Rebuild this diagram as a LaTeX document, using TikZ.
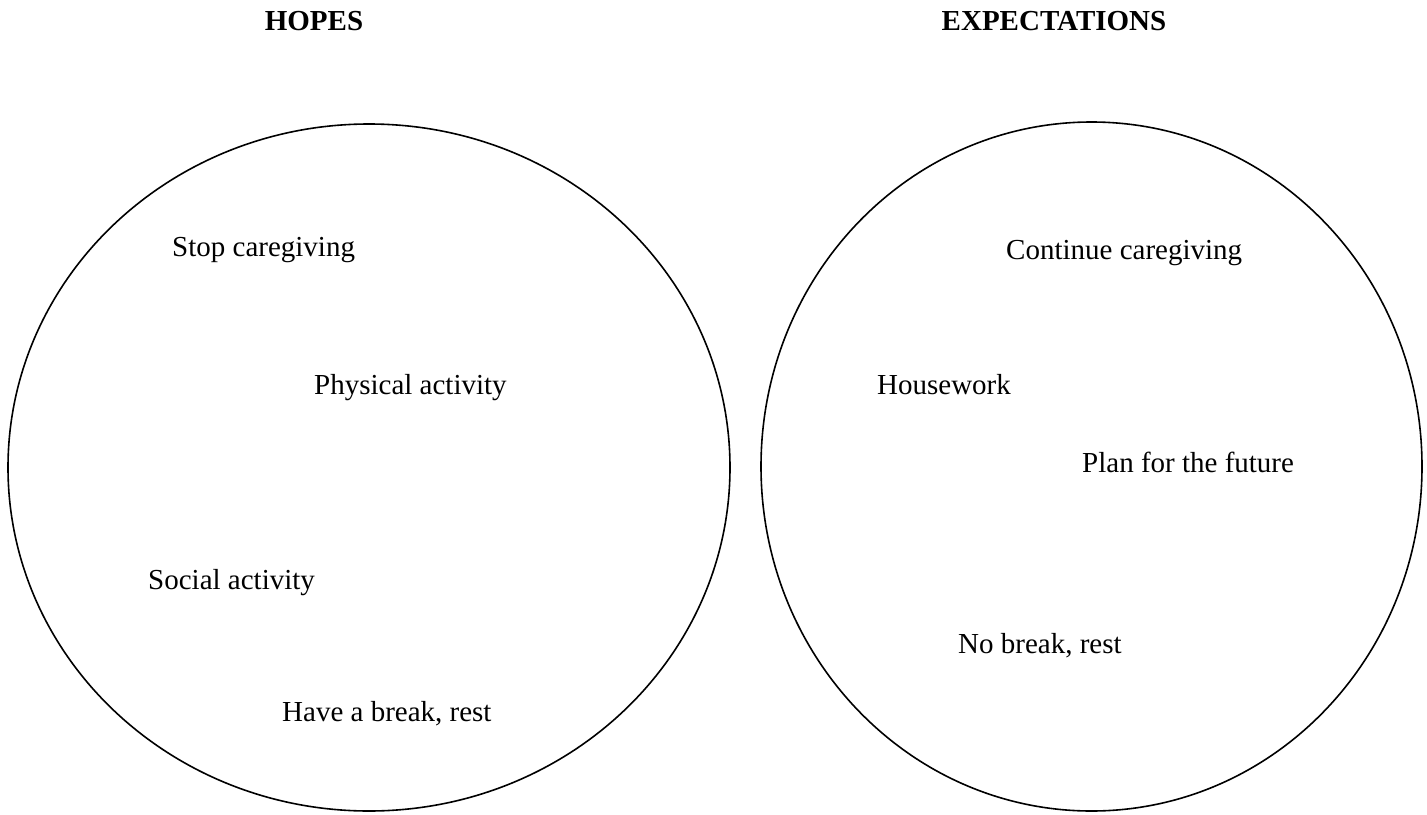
\documentclass[tikz,border=0pt]{standalone}
\usepackage{fontspec}
\setmainfont{Liberation Serif}
\begin{document}
\begin{tikzpicture}[x=1pt,y=-1pt,
  lbl/.style={anchor=base west,inner sep=0pt,font=\fontsize{29}{34}\selectfont},
  ttl/.style={anchor=base,inner sep=0pt,font=\fontsize{29}{34}\selectfont\bfseries},
  ring/.style={draw=black,line width=1.6pt}]
\useasboundingbox (0,0) rectangle (1427,814);
\draw[ring] (369,467.5) ellipse [x radius=361,y radius=343.5];
\draw[ring] (1091.5,466.5) ellipse [x radius=330.5,y radius=344.5];
\node[ttl] (hopes) at (314,30) {HOPES};
\node[ttl] (exp) at (1054,30) {EXPECTATIONS};
\node[lbl] (stop) at (172,256) {Stop caregiving};
\node[lbl] (phys) at (314,394) {Physical activity};
\node[lbl] (soc) at (148,589) {Social activity};
\node[lbl] (brk) at (282,721) {Have a break, rest};
\node[lbl] (cont) at (1006,259) {Continue caregiving};
\node[lbl] (house) at (877,394) {Housework};
\node[lbl] (plan) at (1082,472) {Plan for the future};
\node[lbl] (nob) at (958,653) {No break, rest};
\end{tikzpicture}
\end{document}
